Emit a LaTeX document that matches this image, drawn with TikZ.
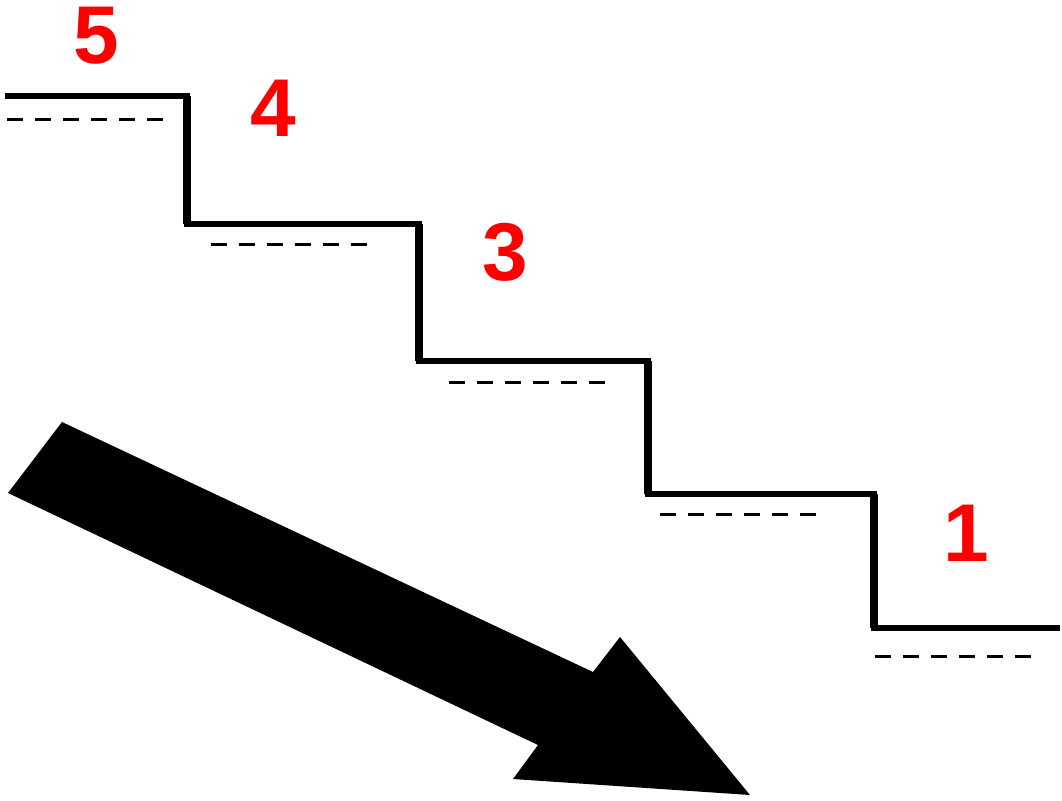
\documentclass[tikz,border=0pt]{standalone}
\usepackage{fontspec}
\setmainfont{Liberation Sans}
\usepackage{tikz}
\usetikzlibrary{calc,positioning}

\tikzset{
  stairline/.style={line width=2.6pt, line join=miter},
  riserline/.style={line width=4pt},
  levelline/.style={line width=1.5pt, dash pattern=on 8pt off 6pt},
  levellabel/.style={text=red, font=\fontsize{41}{41}\selectfont\bfseries, inner sep=0pt}
}

\begin{document}
\begin{tikzpicture}[x=0.5pt,y=-0.5pt]
\useasboundingbox (0,0) rectangle (1062,800);
\draw[stairline] (5,96) coordinate(A) -- ++(182,0) coordinate(B) -- ++(0,128) coordinate(C) -- ++(232,0) coordinate(D) -- ++(0,137) coordinate(E) -- ++(229,0) coordinate(F) -- ++(0,133) coordinate(G) -- ++(226,0) coordinate(H) -- ++(0,134) coordinate(I) -- ++(186,0) coordinate(J);
\draw[riserline] (B) -- (C) (D) -- (E) (F) -- (G) (H) -- (I);
% dashed lines under the steps
\draw[levelline] (7,119) -- (167,119);
\draw[levelline] (211,244) -- (371,244);
\draw[levelline] (449,382) -- (609,382);
\draw[levelline] (660,514) -- (820,514);
\draw[levelline] (875,656) -- (1035,656);
\node[levellabel] (n5) at (96,36) {5};
\node[levellabel] (n4) at (273,108) {4};
\node[levellabel] (n3) at (505,252) {3};
\node[levellabel] (n1) at (966,533) {1};
% big arrow
\fill (62,422) -- (593,672) -- (620,637) -- (750,795) -- (513,779) -- (538,745) -- (8,493) -- cycle;
\end{tikzpicture}
\end{document}
